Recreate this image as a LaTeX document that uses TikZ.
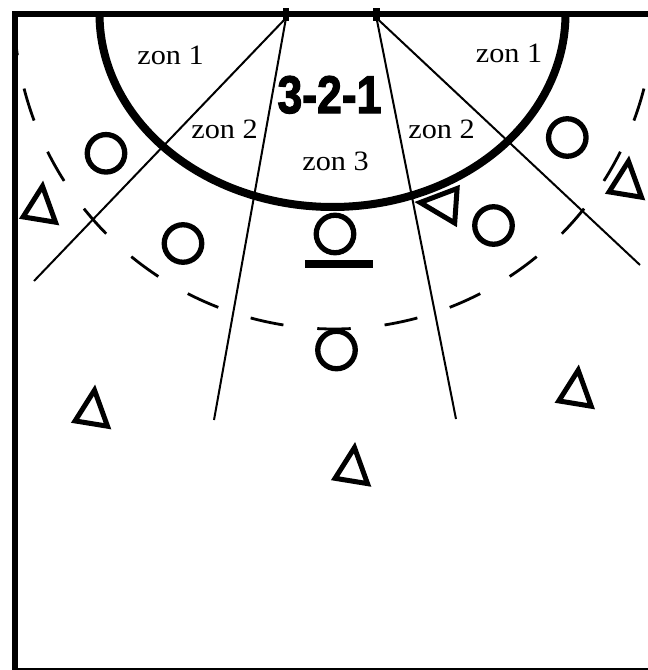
\documentclass[tikz,border=0pt]{standalone}
\usepackage{fontspec}
\setmainfont{Liberation Serif}
\newfontfamily\heavyfont{Liberation Sans}[BoldFeatures={FakeBold=2.5}]
\usepackage{graphicx}
\tikzset{
  frameline/.style={line width=6pt, line join=miter},
  bottomline/.style={line width=2pt},
  sixm/.style={line width=8pt},
  zoneline/.style={line width=2pt},
  ninem/.style={line width=2.8pt},
  defender/.style={circle, draw, line width=5.3pt, minimum size=37.5pt, inner sep=0pt},
  attline/.style={line width=5pt, line join=miter},
  post/.style={rectangle, fill=black, minimum width=6.5pt, minimum height=13pt, inner sep=0pt},
  barbox/.style={rectangle, fill=black, minimum width=68pt, minimum height=8pt, inner sep=0pt},
  zon/.style={font=\fontsize{28}{30}\selectfont, inner sep=0pt, anchor=base},
  att/.pic={\draw[attline] (2.2,-22.1) -- (-17.2,8.6) -- (15.2,13.9) -- cycle;},
}
\begin{document}
\begin{tikzpicture}[x=1pt,y=-1pt]
\useasboundingbox (0,0) rectangle (648,670);
\clip (0,0) rectangle (648,670);
% frame
\draw[frameline] (648,14) -- (14.5,14) -- (14.5,670);
\draw[bottomline] (14.5,669) -- (648,669);
% goal posts
\node[post] (postL) at (286,14) {};
\node[post] (postR) at (376.5,14) {};
\coordinate (pL) at (286,18);
\coordinate (pR) at (376.5,18);
% zone lines
\coordinate (eLd) at (34,281);
\coordinate (eLv) at (214,420);
\coordinate (eRv) at (456,419);
\coordinate (eRd) at (640,265);
\draw[zoneline] (pL) -- (eLd);
\draw[zoneline] (pL) -- (eLv);
\draw[zoneline] (pR) -- (eRv);
\draw[zoneline] (pR) -- (eRd);
% 6 m line
\draw[sixm] plot[domain=0:180, samples=150] ({332.5+233*cos(\x)},{14+193*sin(\x)});
% 9 m dashed line
\foreach \j in {-7,...,7}{
  \pgfmathsetmacro\ta{87-12.1*\j}
  \pgfmathsetmacro\tb{93-12.1*\j}
  \draw[ninem, shift={(334,9)}] plot[domain=\ta:\tb, samples=9] (\x:320);
}
% defenders
\node[defender] (d1) at (106,153.3) {};
\node[defender] (d2) at (183,243.5) {};
\node[defender] (d3) at (335,234) {};
\node[barbox] (bar) at (339,264) {};
\node[defender] (d4) at (493.5,225.5) {};
\node[defender] (d5) at (567.3,137.5) {};
\node[defender] (d6) at (336.5,350) {};
% attackers
\pic at (40.3,208.3) {att};
\pic at (92.3,412.3) {att};
\pic at (352.3,469.7) {att};
\pic at (576,392.3) {att};
\pic at (626.3,183.3) {att};
\draw[attline] (420.2,202.5) -- (457.1,188.5) -- (454.7,223) -- cycle;
% labels
\node[zon] (z1L) at (170.5,64) {\scalebox{1.08}[1]{zon 1}};
\node[zon] (z2L) at (224.5,138) {\scalebox{1.08}[1]{zon 2}};
\node[zon] (z1R) at (509,62) {\scalebox{1.08}[1]{zon 1}};
\node[zon] (z2R) at (441.5,138) {\scalebox{1.08}[1]{zon 2}};
\node[zon] (z3) at (335.5,170) {\scalebox{1.08}[1]{zon 3}};
\node[inner sep=0pt, anchor=base] (title) at (329.5,113) {\resizebox{104pt}{37pt}{\heavyfont\bfseries 3-2-1}};
\end{tikzpicture}
\end{document}
